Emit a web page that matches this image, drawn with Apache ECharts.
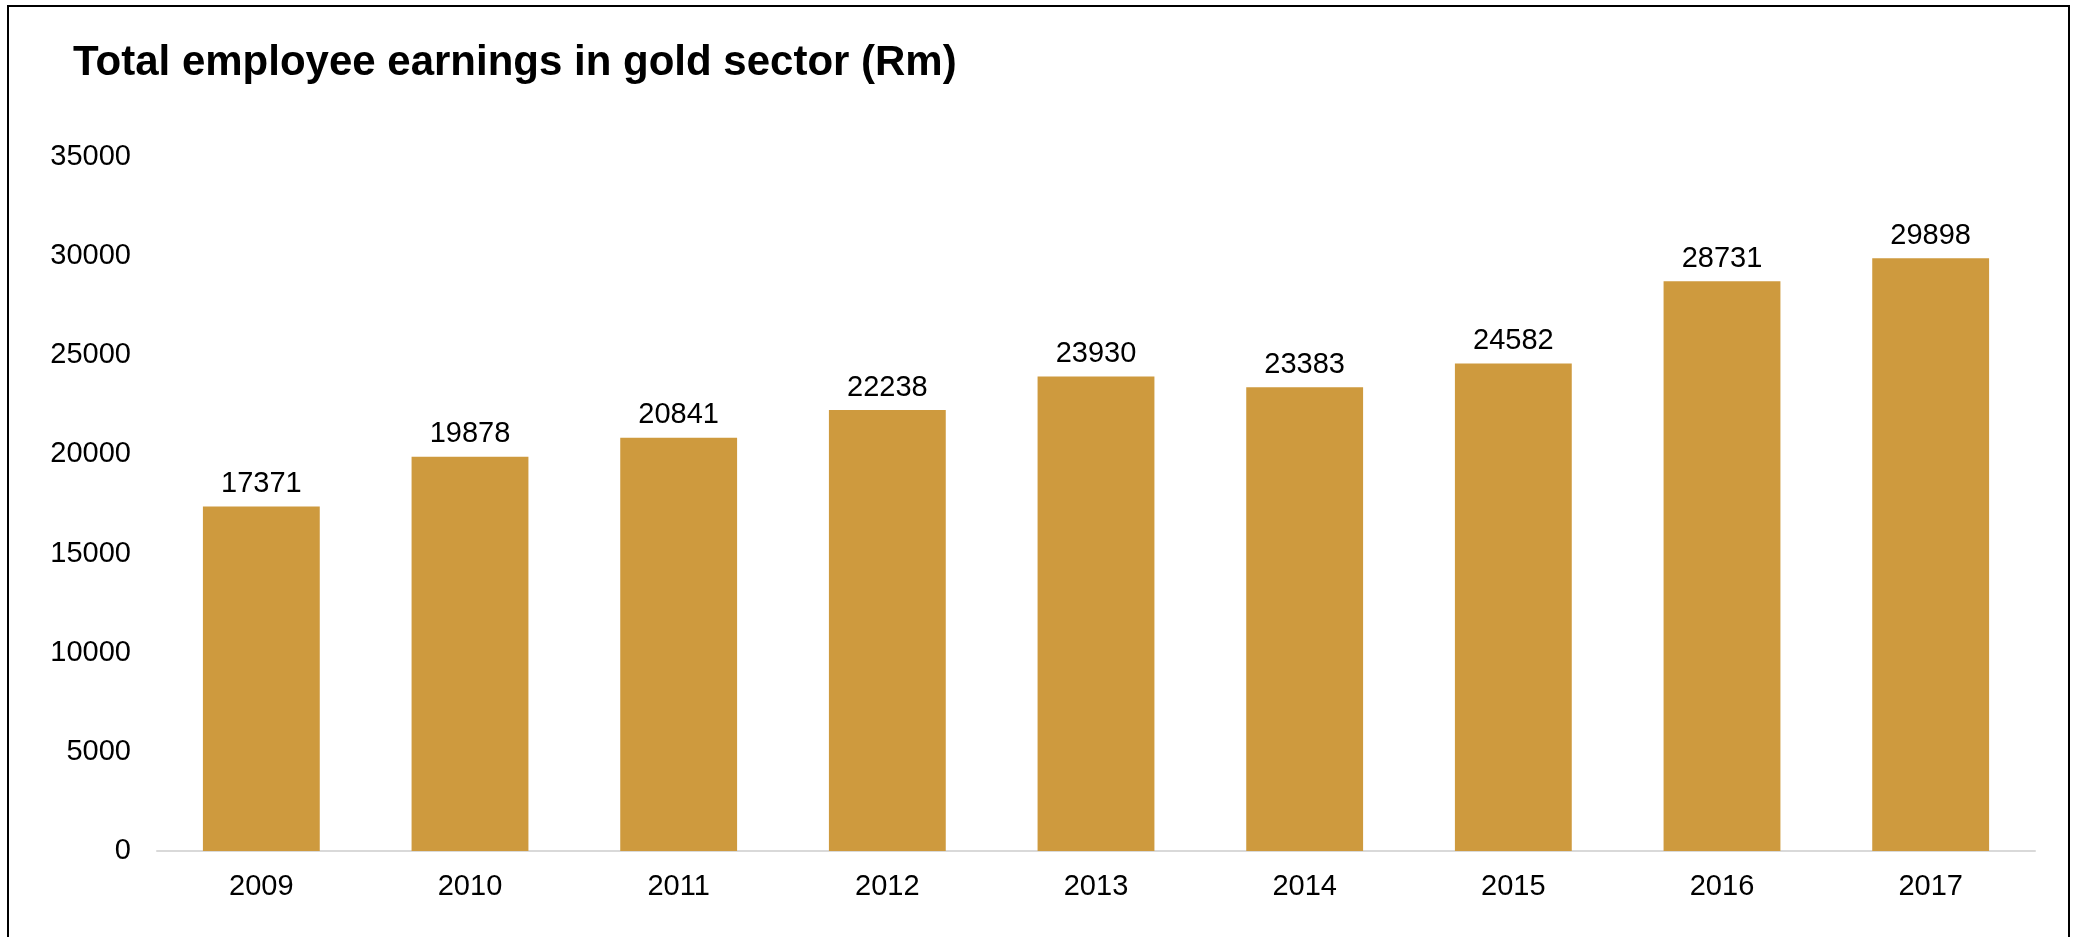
<!DOCTYPE html>
<html>
<head>
<meta charset="utf-8">
<title>Total employee earnings in gold sector (Rm)</title>
<script src="https://cdn.jsdelivr.net/npm/echarts@6/dist/echarts.min.js"></script>
<style>
  html, body { margin: 0; padding: 0; background: #fff; }
  #chart { width: 2079px; height: 937px; }
</style>
</head>
<body>
<div id="chart"></div>
<script>
// Years on the category axis
const years = ['2009', '2010', '2011', '2012', '2013', '2014', '2015', '2016', '2017'];
// Total employee earnings, Rm
const earnings = [17371, 19878, 20841, 22238, 23930, 23383, 24582, 28731, 29898];
// Value axis range
const yMin = 0;
const yMax = 35000;
const yStep = 5000;

const FONT = '"Liberation Sans", Arial, Helvetica, sans-serif';

const chart = echarts.init(document.getElementById('chart'), null, { renderer: 'canvas' });

chart.setOption({
  backgroundColor: '#ffffff',
  animation: false,
  title: {
    text: 'Total employee earnings in gold sector (Rm)',
    left: 68,
    top: 37,
    textStyle: {
      fontFamily: FONT,
      fontWeight: 'bold',
      fontSize: 42,
      color: '#000000'
    }
  },
  graphic: [{
    type: 'rect',
    silent: true,
    shape: { x: 8, y: 6, width: 2061, height: 1000 },
    style: { fill: 'none', stroke: '#000000', lineWidth: 2 }
  }],
  grid: {
    left: 157,
    right: 44,
    top: 157,
    bottom: 86
  },
  xAxis: {
    type: 'category',
    data: years,
    axisLine: { show: true, lineStyle: { color: '#d9d9d9', width: 2 } },
    axisTick: { show: false },
    axisLabel: {
      margin: 21,
      fontFamily: FONT,
      fontSize: 29,
      color: '#000000'
    }
  },
  yAxis: {
    type: 'value',
    min: yMin,
    max: yMax,
    interval: yStep,
    axisLine: { show: false },
    axisTick: { show: false },
    splitLine: { show: false },
    axisLabel: {
      margin: 26,
      fontFamily: FONT,
      fontSize: 29,
      color: '#000000',
      formatter: (v) => String(v)
    }
  },
  series: [{
    type: 'bar',
    data: earnings,
    barWidth: '56%',
    itemStyle: { color: '#CE9A3E' },
    label: {
      show: true,
      position: 'top',
      distance: 8,
      fontFamily: FONT,
      fontSize: 29,
      color: '#000000'
    }
  }]
});
</script>
</body>
</html>
